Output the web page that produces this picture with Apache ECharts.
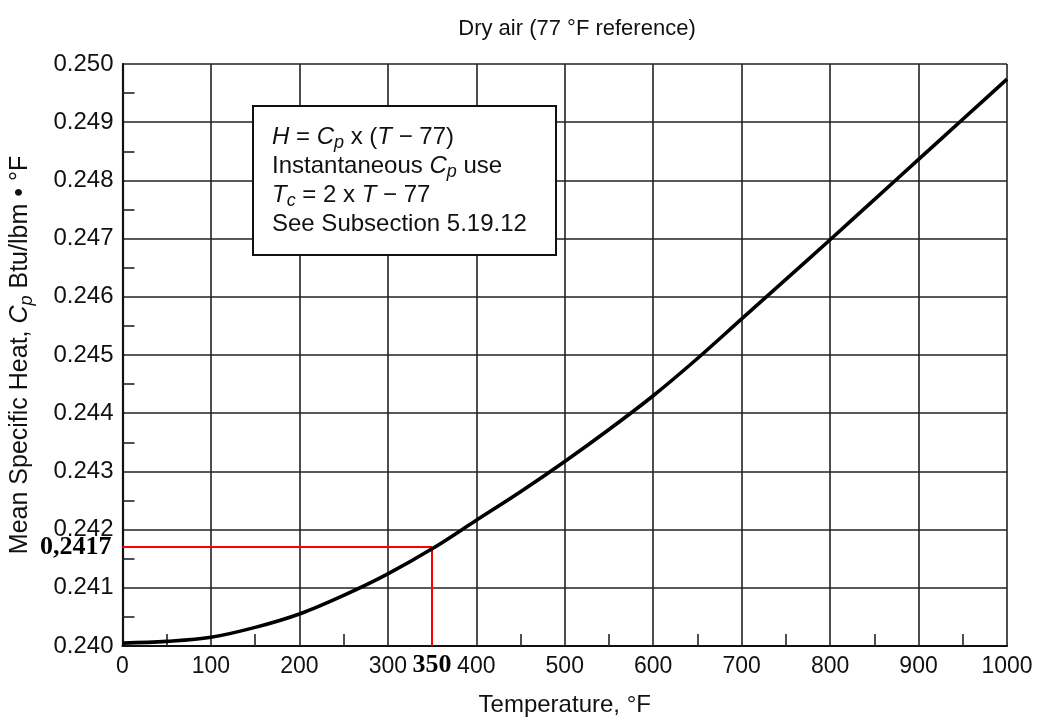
<!DOCTYPE html>
<html>
<head>
<meta charset="utf-8">
<script src="https://cdn.jsdelivr.net/npm/echarts@6/dist/echarts.min.js"></script>
<style>
html,body{margin:0;padding:0;background:#fff;}
#chart{width:1041px;height:722px;}
</style>
</head>
<body>
<div id="chart"></div>
<script>
// Temperature (°F)
const temps = [0, 50, 100, 150, 200, 250, 300, 350, 400, 450, 500, 550, 600, 650, 700, 750, 800, 850, 900, 950, 1000];
// Mean specific heat Cp (Btu/lbm·°F)
const cpValues = [0.24005, 0.24008, 0.24015, 0.24032, 0.24055, 0.24087, 0.24124, 0.24167, 0.24216, 0.24265, 0.24317, 0.24372, 0.24430, 0.24494, 0.24562, 0.24630, 0.24698, 0.24767, 0.24836, 0.24905, 0.24974];
// Read-off marker
const markT = 350;
const markCp = 0.2417;
const markCpLabel = '0,2417';
const markTLabel = '350';
// Axis ranges
const xMin = 0, xMax = 1000, xStep = 100;
const yMin = 0.240, yMax = 0.250, yStep = 0.001;
const titleText = 'Dry air (77 °F reference)';
const xName = 'Temperature, °F';
const yName = 'Mean Specific Heat, {i|C}{sub|p} Btu/lbm • °F';
const boxLines = [
  '{i|H} = {i|C}{sub|p} x ({i|T} − 77)',
  'Instantaneous {i|C}{sub|p} use',
  '{i|T}{sub|c} = 2 x {i|T} − 77',
  'See Subsection 5.19.12'
];

const FONT = '"Liberation Sans", Arial, Helvetica, sans-serif';
const SERIF = '"Liberation Serif", "Times New Roman", serif';
const INK = '#111';
const GRID = '#222';

const chart = echarts.init(document.getElementById('chart'), null, {renderer: 'canvas'});

const data = temps.map((t, i) => [t, cpValues[i]]);

chart.setOption({
  backgroundColor: '#fff',
  animation: false,
  title: {
    text: titleText,
    left: 572, top: 13,
    textAlign: 'center',
    textStyle: {fontFamily: FONT, fontSize: 22, fontWeight: 'normal', color: INK}
  },
  grid: {left: 122, right: 34, top: 64, bottom: 74, containLabel: false},
  xAxis: {
    type: 'value', min: xMin, max: xMax, interval: xStep,
    name: xName, nameLocation: 'middle', nameGap: 47,
    nameTextStyle: {fontFamily: FONT, fontSize: 24, color: INK},
    axisLine: {show: true, onZero: false, lineStyle: {color: '#111', width: 2.2}},
    axisTick: {show: false, inside: true},
    minorTick: {show: true, splitNumber: 2, length: 12, lineStyle: {color: GRID, width: 1.6}},
    axisLabel: {fontFamily: FONT, fontSize: 23, color: INK, margin: 9, formatter: v => String(v)},
    splitLine: {show: true, lineStyle: {color: GRID, width: 1.6}}
  },
  yAxis: {
    type: 'value', min: yMin, max: yMax, interval: yStep,
    name: yName,
    nameLocation: 'middle', nameGap: 87, nameRotate: 90,
    nameTextStyle: {
      fontFamily: FONT, fontSize: 25, color: INK,
      rich: {
        i: {fontFamily: FONT, fontSize: 25, fontStyle: 'italic', color: INK},
        sub: {fontFamily: FONT, fontSize: 18, fontStyle: 'italic', color: INK, padding: [12, 0, 0, 0]}
      }
    },
    axisLine: {show: true, onZero: false, lineStyle: {color: '#111', width: 2.2}},
    axisTick: {show: false, inside: true},
    minorTick: {show: true, splitNumber: 2, length: 12, lineStyle: {color: GRID, width: 1.6}},
    axisLabel: {fontFamily: FONT, fontSize: 24, color: INK, margin: 9, formatter: v => v.toFixed(3)},
    splitLine: {show: true, lineStyle: {color: GRID, width: 1.6}}
  },
  series: [{
    type: 'line',
    data: data,
    smooth: 0.35,
    symbol: 'none',
    lineStyle: {color: '#000', width: 3.6},
    z: 5,
    markLine: {
      silent: true,
      symbol: ['none', 'none'],
      lineStyle: {color: '#ff0000', width: 2, type: 'solid'},
      label: {
        fontFamily: SERIF, fontWeight: 'bold',
        fontSize: 26, color: '#000'
      },
      data: [
        [
          {coord: [xMin, markCp], label: {show: true, position: 'start', formatter: markCpLabel, distance: 11}},
          {coord: [markT, markCp]}
        ],
        [
          {coord: [markT, markCp], label: {show: true, position: 'end', formatter: markTLabel, distance: 6}},
          {coord: [markT, yMin]}
        ]
      ]
    }
  }],
  graphic: [
    {
      type: 'rect',
      left: 252, top: 105,
      shape: {width: 303, height: 149},
      style: {fill: '#fff', stroke: '#111', lineWidth: 2},
      z: 10
    },
    {
      type: 'text',
      left: 272, top: 122,
      z: 11,
      style: {
        text: boxLines.join('\n'),
        fontFamily: FONT, fontSize: 24, fill: INK, lineHeight: 29,
        rich: {
          i: {fontFamily: FONT, fontSize: 24, fontStyle: 'italic', fill: INK, lineHeight: 29},
          sub: {fontFamily: FONT, fontSize: 18, fontStyle: 'italic', fill: INK, padding: [12, 0, 0, 0], lineHeight: 29}
        }
      }
    }
  ]
});
</script>
</body>
</html>
